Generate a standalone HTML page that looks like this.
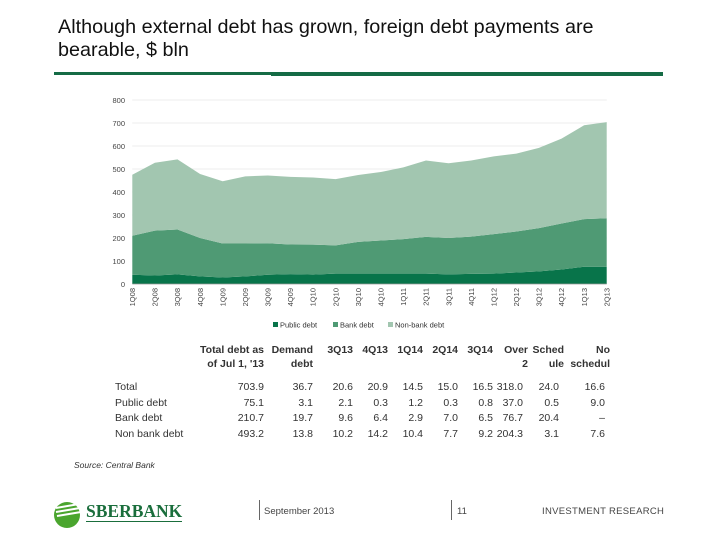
<!DOCTYPE html>
<html><head><meta charset="utf-8"><style>
body{margin:0;background:#fff;font-family:"Liberation Sans",sans-serif;}
#page{position:relative;width:720px;height:540px;overflow:hidden;background:#fff;}
.t{position:absolute;white-space:nowrap;}
.tbl{font-size:10.5px;color:#333;}
.h{font-weight:bold;}
</style></head><body>
<div id="page">
<div class="t" style="left:58px;top:16px;font-size:19.8px;line-height:23px;color:#111;">Although external debt has grown, foreign debt payments are<br>bearable, $ bln</div>
<div style="position:absolute;left:54px;top:72px;width:218px;height:3px;background:#156b45;"></div>
<div style="position:absolute;left:271px;top:72px;width:392px;height:4px;background:#156b45;"></div>
<svg id="chart" width="720" height="340" style="position:absolute;left:0;top:0"></svg>
<div id="table"></div>
<div class="t" style="left:74px;top:460px;font-size:8.5px;font-style:italic;color:#333;">Source: Central Bank</div>
<svg width="34" height="30" style="position:absolute;left:52px;top:500px">
<circle cx="15" cy="15" r="13" fill="#4aa52e"/><path d="M4 8 L27 4 M4 12 L28 8 M5 16 L29 12" stroke="#fff" stroke-width="2"/></svg>
<div class="t" style="left:86px;top:501px;font-family:'Liberation Serif',serif;font-weight:bold;font-size:17.5px;color:#1a6e3c;border-bottom:1px solid #1a6e3c;line-height:20px;">SBERBANK</div>
<div style="position:absolute;left:259px;top:500px;width:1px;height:20px;background:#666"></div>
<div class="t" style="left:264px;top:506px;font-size:9.5px;color:#444;">September 2013</div>
<div style="position:absolute;left:451px;top:500px;width:1px;height:20px;background:#666"></div>
<div class="t" style="left:457px;top:506px;font-size:9.5px;color:#444;">11</div>
<div class="t" style="left:542px;top:506px;font-size:9.5px;color:#444;letter-spacing:0.3px;">INVESTMENT RESEARCH</div>
</div>
<script>
const categories=["1Q08","2Q08","3Q08","4Q08","1Q09","2Q09","3Q09","4Q09","1Q10","2Q10","3Q10","4Q10","1Q11","2Q11","3Q11","4Q11","1Q12","2Q12","3Q12","4Q12","1Q13","2Q13"];
const publicDebt=[40,37,42,33,28,33,40,43,41,45,45,45,45,45,42,44,45,50,55,63,75,75];
const bankDebt=[170,195,195,167,148,143,137,129,130,123,138,144,150,160,158,162,172,178,188,200,207,211];
const nonBankDebt=[265,295,305,278,271,292,295,294,292,288,291,298,312,332,325,331,338,339,349,369,408,418];
const yTicks=[0,100,200,300,400,500,600,700,800];
const legendLabels=["Public debt","Bank debt","Non-bank debt"];
const colors=["#08744a","#4f9a74","#a2c6b0"];
const NS="http://www.w3.org/2000/svg";
const svg=document.getElementById('chart');
const x0=132.3,x1=606.7,yBase=284,yTop=100;
const xs=i=>x0+(x1-x0)*i/(categories.length-1);
const ys=v=>yBase-(yBase-yTop)*v/800;
function mk(t,a){const e=document.createElementNS(NS,t);for(const k in a)e.setAttribute(k,a[k]);svg.appendChild(e);return e;}
yTicks.forEach(v=>{
  if(v>0){const g=mk('line',{x1:x0,x2:x1,y1:ys(v),y2:ys(v),stroke:'#e6e6e6','stroke-width':0.8});
  
  }
  const t=mk('text',{x:125,y:ys(v)+3,'text-anchor':'end','font-size':7.5,fill:'#444','font-family':'Liberation Sans'});
  t.textContent=v;
  
  
});
const series=[publicDebt,bankDebt,nonBankDebt];
const names=['public-debt-area','bank-debt-area','non-bank-debt-area'];
let base=categories.map(()=>0);
series.forEach((s,k)=>{
  const top=s.map((v,i)=>v+base[i]);
  let d='M'+categories.map((c,i)=>xs(i)+','+ys(top[i])).join('L');
  for(let i=categories.length-1;i>=0;i--)d+='L'+xs(i)+','+ys(base[i]);
  const p=mk('path',{d:d+'Z',fill:colors[k]});
  
  
  base=top;
});
const ax=mk('line',{x1:x0,x2:x1,y1:yBase,y2:yBase,stroke:'#999','stroke-width':0.8});


categories.forEach((c,i)=>{
  const t=mk('text',{x:0,y:0,'text-anchor':'end','font-size':7.5,fill:'#444','font-family':'Liberation Sans',transform:`translate(${xs(i)+2.7},${yBase+4}) rotate(-90)`});
  t.textContent=c;
  
  
});
const lx=[273,333,388];
legendLabels.forEach((l,k)=>{
  const r=mk('rect',{x:lx[k],y:322,width:5,height:5,fill:colors[k]});
  
  
  const t=mk('text',{x:lx[k]+7,y:327.5,'font-size':7.5,fill:'#333','font-family':'Liberation Sans'});
  t.textContent=l;
  
  
});
// table
const headers1=["Total debt as","Demand","3Q13","4Q13","1Q14","2Q14","3Q14","Over","Sched","No"];
const headers2=["of Jul 1, '13","debt","","","","","","2","ule","schedul"];
const rowLabels=["Total","Public debt","Bank debt","Non bank debt"];
const tableRows=[["703.9","36.7","20.6","20.9","14.5","15.0","16.5","318.0","24.0","16.6"],["75.1","3.1","2.1","0.3","1.2","0.3","0.8","37.0","0.5","9.0"],["210.7","19.7","9.6","6.4","2.9","7.0","6.5","76.7","20.4","–"],["493.2","13.8","10.2","14.2","10.4","7.7","9.2","204.3","3.1","7.6"]];
const colRight=[264,313,353,388,423,458,493,523,559,605];
const tbl=document.getElementById('table');
function cell(txt,right,top,cls,name){const d=document.createElement('div');d.className='t tbl '+cls;d.style.right=(720-right)+'px';d.style.top=top+'px';d.textContent=txt;


tbl.appendChild(d);}
headers1.forEach((h,j)=>cell(h,colRight[j]+(j>=7?5:0),344,'h','col-header-'+j));
headers2.forEach((h,j)=>{if(h)cell(h,colRight[j]+(j>=7?5:0),358,'h','col-header2-'+j);});
rowLabels.forEach((r,i)=>{
  const d=document.createElement('div');d.className='t tbl';d.style.left='115px';d.style.top=(381+i*15.7)+'px';d.textContent=r;
  
  
  tbl.appendChild(d);
  tableRows[i].forEach((v,j)=>cell(v,colRight[j],381+i*15.7,'','cell-'+i+'-'+j));
});
</script>
</body></html>
